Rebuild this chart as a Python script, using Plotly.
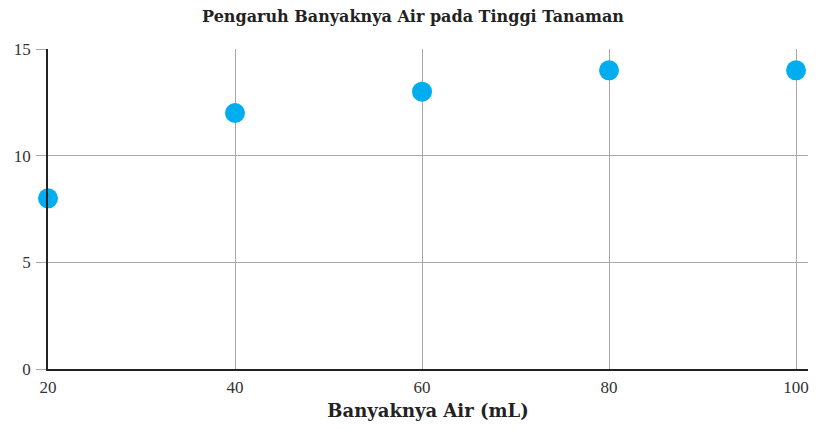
import plotly.graph_objects as go

air_ml = [20, 40, 60, 80, 100]
tinggi = [8, 12, 13, 14, 14]
x_ticks = [20, 40, 60, 80, 100]
y_ticks = [0, 5, 10, 15]

FONT = "Liberation Serif"
TFONT = "DejaVu Serif"

fig = go.Figure(go.Scatter(
    x=air_ml, y=tinggi, mode="markers",
    marker=dict(size=20, color="#00AEEF", line=dict(width=0)),
    cliponaxis=False, showlegend=False,
))

# page body has an 8px margin, so the figure is 810x422 placed at (8, 8)
fig.update_layout(
    width=810, height=422,
    margin=dict(l=40, r=10, t=41, b=61, autoexpand=False),
    paper_bgcolor="white", plot_bgcolor="white",
    font=dict(family=FONT, size=17, color="#333333"),
    title=dict(text="<b>Pengaruh Banyaknya Air pada Tinggi Tanaman</b>",
               x=0.5, xanchor="center", y=0.979, yanchor="middle",
               font=dict(family=TFONT, size=16, color="#222222")),
)

fig.update_xaxes(
    range=[20, 101.28], tickvals=x_ticks, ticktext=[str(v) for v in x_ticks],
    showgrid=True, gridcolor="#a8a8a8", gridwidth=1,
    showline=True, linecolor="#222222", linewidth=1.5,
    zeroline=False, ticks="", ticklabelstandoff=2, automargin=False,
    title=dict(text="<b>Banyaknya Air (mL)</b>", font=dict(family=TFONT, size=18, color="#222222"), standoff=8),
)
fig.update_yaxes(
    range=[0, 15], tickvals=y_ticks, ticktext=[str(v) for v in y_ticks],
    showgrid=True, gridcolor="#a8a8a8", gridwidth=1,
    showline=True, linecolor="#222222", linewidth=1.5,
    zeroline=False, ticks="outside", ticklen=10, tickcolor="#a8a8a8",
    ticklabelstandoff=2, automargin=False,
)

fig.write_html("out.html")
